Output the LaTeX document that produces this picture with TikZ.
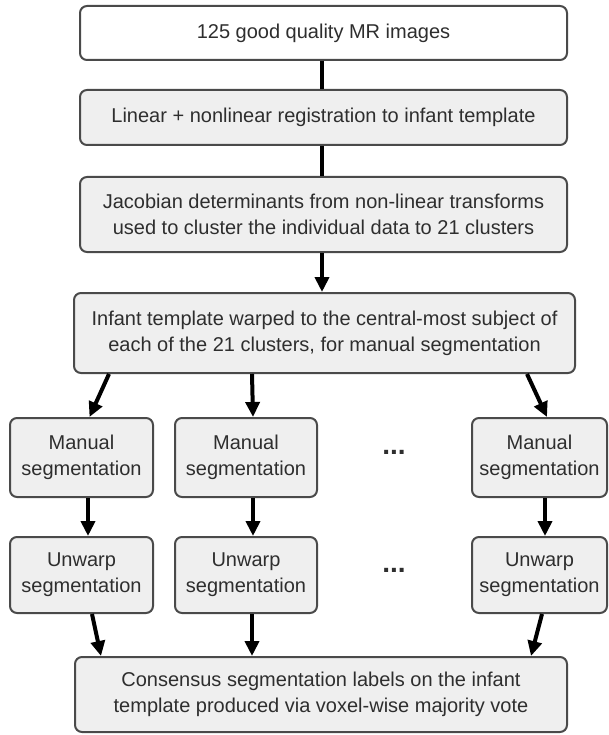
\documentclass[tikz,border=0pt]{standalone}
\usepackage{fontspec}
\setmainfont{Liberation Sans}
\usetikzlibrary{arrows.meta,calc}
\definecolor{boxfill}{HTML}{EFEFEF}
\definecolor{boxline}{HTML}{4A4A4A}
\definecolor{txt}{HTML}{2E2E2E}
\begin{document}
\begin{tikzpicture}[x=1pt,y=-1pt,
  box/.style={draw=boxline,line width=2pt,rounded corners=7pt,fill=boxfill,
    align=center,text=txt,font=\fontsize{20}{26}\selectfont,inner sep=0pt},
  conn/.style={line width=4pt,black},
  arr/.style={conn,-{Triangle[length=15pt,width=14pt]}},
  dots/.style={font=\fontsize{28}{30}\selectfont\bfseries,text=txt,inner sep=0pt}]
\useasboundingbox (0,0) rectangle (609,735);
\node[box,fill=white,minimum width=487pt,minimum height=54pt] (b1) at (323.5,33) {125 good quality MR images};
\node[box,minimum width=487pt,minimum height=55pt] (b2) at (323.5,117.5) {Linear + nonlinear registration to infant template};
\node[box,minimum width=487pt,minimum height=75pt] (b3) at (323.5,214.5) {Jacobian determinants from non-linear transforms\\used to cluster the individual data to 21 clusters};
\node[box,minimum width=501pt,minimum height=80pt] (b4) at (324.5,333) {Infant template warped to the central-most subject of\\each of the 21 clusters, for manual segmentation};
\node[box,minimum width=143pt,minimum height=79pt] (ml) at (81.5,457.5) {Manual\\segmentation};
\node[box,minimum width=142pt,minimum height=79pt] (mm) at (246,457.5) {Manual\\segmentation};
\node[box,minimum width=135pt,minimum height=79pt] (mr) at (539.5,457.5) {Manual\\segmentation};
\node[box,minimum width=143pt,minimum height=76pt] (ul) at (81.5,575) {Unwarp\\segmentation};
\node[box,minimum width=142pt,minimum height=76pt] (um) at (246,575) {Unwarp\\segmentation};
\node[box,minimum width=135pt,minimum height=76pt] (ur) at (539.5,575) {Unwarp\\segmentation};
\node[box,minimum width=492pt,minimum height=75pt] (bb) at (321,694.5) {Consensus segmentation labels on the infant\\template produced via voxel-wise majority vote};
\node[dots] (d1) at (394,452) {...};
\node[dots] (d2) at (394,570) {...};
% connectors
\draw[conn] ([xshift=-1.5pt]b1.south) -- ([xshift=-1.5pt]b2.north);
\draw[conn] ([xshift=-1.5pt]b2.south) -- ([xshift=-1.5pt]b3.north);
\draw[arr] ([xshift=-1.5pt]b3.south) -- ([xshift=-2.5pt]b4.north);
\draw[arr] ([xshift=36pt]b4.south west) -- ([xshift=8pt]ml.north);
\draw[arr] ([xshift=179pt]b4.south west) -- ([xshift=7pt]mm.north);
\draw[arr] ([xshift=454pt]b4.south west) -- ([xshift=7.5pt]mr.north);
\draw[arr] ([xshift=6.5pt]ml.south) -- ([xshift=6.5pt]ul.north);
\draw[arr] ([xshift=7pt]mm.south) -- ([xshift=7pt]um.north);
\draw[arr] ([xshift=5.5pt]mr.south) -- ([xshift=5.5pt]ur.north);
\draw[arr] ([xshift=10.5pt]ul.south) -- ([xshift=27pt]bb.north west);
\draw[arr] ([xshift=6pt]um.south) -- ([xshift=-69pt]bb.north);
\draw[arr] ([xshift=2.5pt]ur.south) -- ([xshift=-37pt]bb.north east);
\end{tikzpicture}
\end{document}
